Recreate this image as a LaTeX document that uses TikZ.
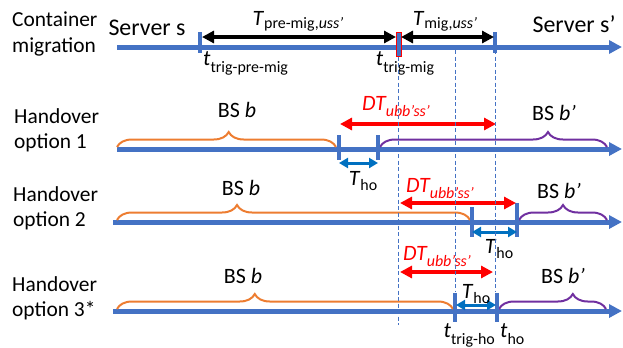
\documentclass[tikz,border=0pt]{standalone}
\usepackage{fontspec}
\setmainfont{Carlito}
\usetikzlibrary{arrows.meta,decorations.pathreplacing}

\definecolor{axisblue}{RGB}{68,114,196}
\definecolor{hoblue}{RGB}{0,112,192}
\definecolor{bsorange}{RGB}{237,125,49}
\definecolor{bspurple}{RGB}{112,48,160}

\newcommand{\lowsub}[2][6bp]{\raisebox{-#1}{\fontsize{16}{16}\selectfont #2}}

\tikzstyle{timeline}=[line width=5bp,draw=axisblue,-{Triangle[length=13bp,width=13bp]}]
\tikzstyle{tickmark}=[line width=4bp,draw=axisblue]
\tikzstyle{guide}=[line width=1bp,draw=axisblue,dash pattern=on 4bp off 2.5bp]
\tikzstyle{migspan}=[line width=4bp,{Triangle[length=12bp,width=12bp]}-{Triangle[length=12bp,width=12bp]}]
\tikzstyle{dtspan}=[migspan,draw=red,fill=red]
\tikzstyle{hospan}=[line width=3bp,draw=hoblue,{Triangle[length=9bp,width=10bp]}-{Triangle[length=9bp,width=10bp]}]
\tikzstyle{bsbrace}=[line width=2bp,decorate,decoration={brace,amplitude=15bp}]
\tikzstyle{rowlabel}=[anchor=west,align=left,font=\fontsize{21.5}{25.5}\selectfont]

\begin{document}
\begin{tikzpicture}[x=1bp,y=-1bp,font=\fontsize{22}{25}\selectfont,every node/.style={inner sep=0}]
	\useasboundingbox (0,0) rectangle (623,347);
%
	\node[rowlabel] (cmig) at (12,34) {Container\\migration};
	\node[rowlabel] (hoa) at (14,130) {Handover\\option 1};
	\node[rowlabel] (hob) at (13,208) {Handover\\option 2};
	\node[rowlabel] (hoc) at (12,298) {Handover\\option 3*};
%
	% container migration
	\draw[timeline] (117,47) -- (622,47);
	\draw[tickmark] (200,32) -- (200,53);
	\draw[tickmark] (495,32) -- (495,53);
	\draw[draw=red,fill=axisblue,line width=1bp] (396,32) rectangle (401,56);
	\coordinate (premig) at (202,37);
	\coordinate (trigmig) at (396,37);
	\coordinate (trigmigr) at (401,37);
	\coordinate (migdone) at (494,37);
	\draw[migspan] (premig) -- (trigmig);
	\draw[migspan] (trigmigr) -- (migdone);
	\node[anchor=base,font=\fontsize{24}{26}\selectfont] (srvs) at (147,35) {Server s};
	\node[anchor=base,font=\fontsize{24}{26}\selectfont] (srvt) at (574,32) {Server s’};
	\node[anchor=base] (tpremig) at (298,25) {\textit{T}\lowsub[3bp]{pre-mig,\textit{uss’}}};
	\node[anchor=base] (tmig) at (445,25) {\textit{T}\lowsub[3bp]{mig,\textit{uss’}}};
	\node[anchor=base west] (ttrigpre) at (203,65) {\textit{t}\lowsub[7bp]{trig-pre-mig}};
	\node[anchor=base] (ttrigmig) at (405,65) {\textit{t}\lowsub[7bp]{trig-mig}};
%
	% handover option 1
	\draw[timeline] (117,149) -- (622,149);
	\draw[bsbrace,draw=bsorange,decoration={aspect=0.51}] (117,147) -- (336,147);
	\draw[bsbrace,draw=bspurple,decoration={aspect=0.74}] (380,147) -- (607,147);
	\draw[tickmark] (339,135) -- (339,160);
	\draw[tickmark] (378,135) -- (378,160);
	\coordinate (hoa1) at (339,163);
	\coordinate (hoa2) at (378,163);
	\coordinate (dta1) at (340,124);
	\coordinate (dta2) at (496,124);
	\draw[dtspan] (dta1) -- (dta2);
	\draw[hospan] (hoa1) -- (hoa2);
	\node[anchor=base] (bsa) at (237,117) {BS \textit{b}};
	\node[anchor=base] (bsat) at (554,120) {BS \textit{b’}};
	\node[anchor=base,text=red] (dta) at (396,110) {\textit{DT\lowsub{ubb’ss’}}};
	\node[anchor=base] (tha) at (363,185) {\textit{T}\lowsub[5bp]{ho}};
%
	% handover option 2
	\draw[timeline] (113,222) -- (622,222);
	\draw[bsbrace,draw=bsorange,decoration={aspect=0.34}] (117,220) -- (470,220);
	\draw[bsbrace,draw=bspurple,decoration={aspect=0.5}] (519,220) -- (607,220);
	\draw[tickmark] (472,207) -- (472,237);
	\draw[tickmark] (517,203) -- (517,237);
	\coordinate (hob1) at (472,232);
	\coordinate (hob2) at (517,232);
	\coordinate (dtb1) at (400,203);
	\coordinate (dtb2) at (516,203);
	\draw[dtspan] (dtb1) -- (dtb2);
	\draw[hospan] (hob1) -- (hob2);
	\node[anchor=base] (bsb) at (241,195) {BS \textit{b}};
	\node[anchor=base] (bsbt) at (559,198) {BS \textit{b’}};
	\node[anchor=base,text=red] (dtb) at (440,192) {\textit{DT\lowsub{ubb’ss’}}};
	\node[anchor=base] (thb) at (499,253) {\textit{T}\lowsub[5bp]{ho}};
%
	% handover option 3
	\draw[timeline] (113,311) -- (622,311);
	\draw[bsbrace,draw=bsorange,decoration={aspect=0.41}] (117,309) -- (453,309);
	\draw[bsbrace,draw=bspurple,decoration={aspect=0.69}] (499,309) -- (606,309);
	\draw[tickmark] (455,293) -- (455,322);
	\draw[tickmark] (497,293) -- (497,322);
	\coordinate (hoc1) at (456,305);
	\coordinate (hoc2) at (496,305);
	\coordinate (dtc1) at (400,272);
	\coordinate (dtc2) at (493,272);
	\draw[dtspan] (dtc1) -- (dtc2);
	\draw[hospan] (hoc1) -- (hoc2);
	\node[anchor=base] (bsc) at (243,283) {BS \textit{b}};
	\node[anchor=base] (bsct) at (563,283) {BS \textit{b’}};
	\node[anchor=base,text=red] (dtc) at (437,260) {\textit{DT\lowsub{ubb’ss’}}};
	\node[anchor=base] (thc) at (476,298) {\textit{T}\lowsub[5bp]{ho}};
	\node[anchor=base east] (ttrigho) at (495,337) {\textit{t}\lowsub[7bp]{trig-ho}};
	\node[anchor=base west] (tho) at (500,337) {\textit{t}\lowsub[7bp]{ho}};
%
	\draw[guide] (398,50) -- (398,325);
	\draw[guide] (455,50) -- (455,292);
	\draw[guide] (495,50) -- (495,292);
\end{tikzpicture}
\end{document}
